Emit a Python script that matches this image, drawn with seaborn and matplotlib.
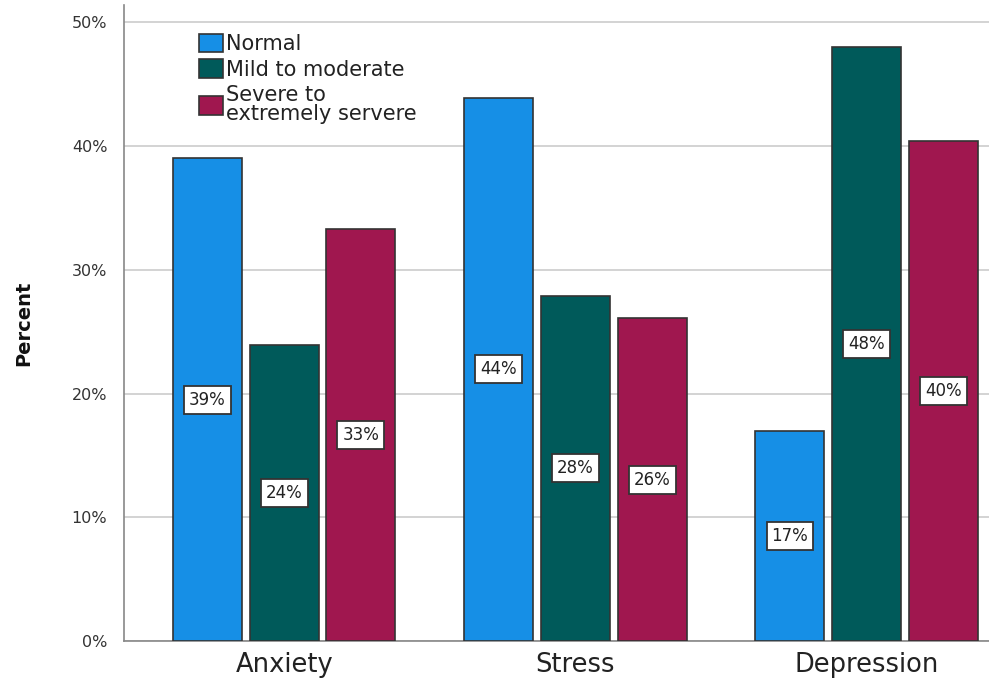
import matplotlib
matplotlib.use("Agg")
import matplotlib.pyplot as plt
import seaborn as sns
import pandas as pd
from matplotlib.ticker import FuncFormatter

categories = ["Anxiety", "Stress", "Depression"]
levels = ["Normal", "Mild to moderate", "Severe to\nextremely servere"]
normal = [39.0, 43.9, 17.0]
mild = [23.9, 27.9, 48.0]
severe = [33.3, 26.1, 40.4]
labels_normal = ["39%", "44%", "17%"]
labels_mild = ["24%", "28%", "48%"]
labels_severe = ["33%", "26%", "40%"]

colors = ["#168fe6", "#005a5a", "#a0174f"]

rows = []
for lev, vals in zip(levels, [normal, mild, severe]):
    for c, v in zip(categories, vals):
        rows.append({"measure": c, "level": lev, "pct": v})
df = pd.DataFrame(rows)

sns.set_style("white")
plt.rcParams['font.family'] = ['DejaVu Sans']

fig = plt.figure(figsize=(9.89, 6.78), dpi=100)
ax = fig.add_axes([124/989, 37/678, 1 - 124/989, 636/678])

sns.barplot(data=df, x="measure", y="pct", hue="level", hue_order=levels,
            order=categories, palette=colors, saturation=1, width=0.79, gap=0.1,
            edgecolor="#333333", linewidth=1.2, ax=ax, zorder=3)

ax.set_xlim(-0.55, 2.42)
ax.set_ylim(0, 51.4)
ax.set_yticks([0, 10, 20, 30, 40, 50])
ax.yaxis.set_major_formatter(FuncFormatter(lambda v, p: f"{int(v)}%"))
ax.grid(axis="y", color="#cccccc", linewidth=1.2, zorder=0)
ax.set_axisbelow(True)
for s in ["top", "right"]:
    ax.spines[s].set_visible(False)
for s in ["left", "bottom"]:
    ax.spines[s].set_color("#888888")
    ax.spines[s].set_linewidth(1.2)

ax.tick_params(axis="y", labelsize=11.5, colors="#333333", length=0, pad=12)
ax.tick_params(axis="x", length=0, pad=8)
for t in ax.get_xticklabels():
    t.set_fontsize(18.5)
    t.set_color("#222222")
ax.set_xlabel("")
ax.set_ylabel("Percent", fontsize=14, fontweight="bold", labelpad=28, color="#111111")

all_labels = [labels_normal, labels_mild, labels_severe]
for cont, labs in zip(ax.containers, all_labels):
    ax.bar_label(cont, labels=labs, label_type="center", fontsize=12,
                 color="#222222",
                 bbox=dict(boxstyle="square,pad=0.3", facecolor="white",
                           edgecolor="#333333", linewidth=1.3), zorder=5)

leg = ax.legend(loc="upper left", bbox_to_anchor=(0.077, 0.968), frameon=False,
                fontsize=15, handlelength=1.15, handleheight=1.0,
                handletextpad=0.15, labelspacing=0.25, borderaxespad=0)
for h in leg.legend_handles:
    h.set_edgecolor("#333333")
    h.set_linewidth(1.2)
for t in leg.get_texts():
    t.set_color("#222222")
    t.set_linespacing(0.95)

fig.savefig("out.png", dpi=100)
